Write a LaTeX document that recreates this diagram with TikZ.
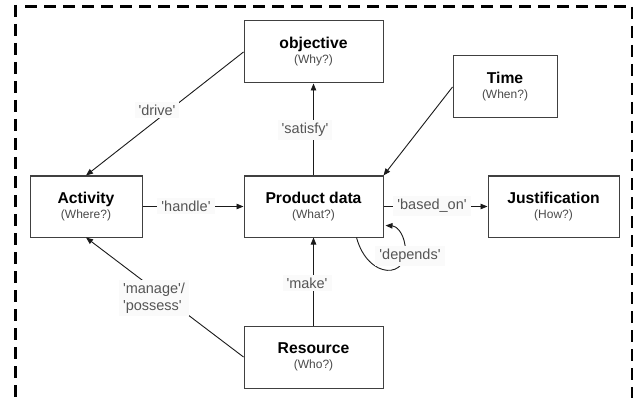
\documentclass[tikz,border=0pt]{standalone}
\usepackage{fontspec}
\setmainfont{Liberation Sans}
\usetikzlibrary{arrows.meta,calc}

\definecolor{boxline}{HTML}{404040}
\definecolor{edgeline}{HTML}{1A1A1A}
\definecolor{labeltext}{HTML}{555555}
\definecolor{subtext}{HTML}{4A4A4A}
\definecolor{labelbg}{HTML}{FAFAFA}

% small grey question under each entity name
\newcommand\askq[1]{{\fontsize{12}{15}\selectfont\mdseries\color{subtext}#1}}
% relation name between straight single quotes
\newcommand\relname[1]{\textquotesingle#1\textquotesingle}

\begin{document}
\begin{tikzpicture}[x=1pt,y=-1pt,
  entity/.style={draw=boxline, line width=1pt, fill=white, align=center,
    inner sep=0pt, font=\fontsize{15.7}{15}\selectfont\bfseries},
  rel/.style={draw=edgeline, line width=0.9pt,
    -{Triangle[length=7pt,width=5.5pt]}},
  tag/.style={fill=labelbg, text=labeltext, inner xsep=4pt, inner ysep=3pt,
    font=\fontsize{14.5}{17}\selectfont},
  frame/.style={line width=2.6pt, dash pattern=on 12pt off 7pt},
]
\useasboundingbox (0,0) rectangle (639,398);

% dashed enclosure (open at the bottom)
\draw[frame] (25,6.5) -- (632,6.5);
\draw[frame] (15.5,5) -- (15.5,420);
\draw[frame] (632,7) -- (632,420);

% entities
\node[entity, minimum width=139pt, minimum height=62pt] (obj)  at (313.5,52)  {objective\\\askq{(Why?)}};
\node[entity, minimum width=104pt, minimum height=62pt] (time) at (505,87)    {Time\\\askq{(When?)}};
\node[entity, minimum width=112pt, minimum height=61pt] (act)  at (86,206.5)  {Activity\\\askq{(Where?)}};
\node[entity, minimum width=139pt, minimum height=61pt] (pd)   at (313.5,206.5) {Product data\\\askq{(What?)}};
\node[entity, minimum width=131pt, minimum height=61pt] (just) at (553.5,206.5) {Justification\\\askq{(How?)}};
\node[entity, minimum width=139pt, minimum height=62pt] (res)  at (313.5,357) {Resource\\\askq{(Who?)}};

% relations
\draw[rel] (obj.west) -- (act.north);
\draw[rel] (pd.north) -- (obj.south);
\draw[rel] (time.west) -- (pd.north east);
\draw[rel] (act.east) -- (pd.west);
\draw[rel] (pd.east) -- (just.west);
\draw[rel] (res.north) -- (pd.south);
\draw[rel] (res.west) -- (act.south);
\draw[rel] ($(pd.south east)+(-27,0)$) .. controls (368,280) and (410,280) .. (405,245)
  .. controls (403,232) and (396,226) .. ($(pd.south east)+(2,-12)$);

% relation names
\node[tag] (tdrive)   at (157,110) {\relname{drive}};
\node[tag] (tsatisfy) at (305,130) {\relname{satisfy}};
\node[tag] (thandle)  at (186,206) {\relname{handle}};
\node[tag] (tbased)   at (432,206) {\relname{based\_on}};
\node[tag] (tmake)    at (307,283) {\relname{make}};
\node[tag] (tdepends) at (410,256) {\relname{depends}};
\node[tag, align=left] (tmanage) at (154,298) {\relname{manage}/\\\relname{possess}};
\end{tikzpicture}
\end{document}
